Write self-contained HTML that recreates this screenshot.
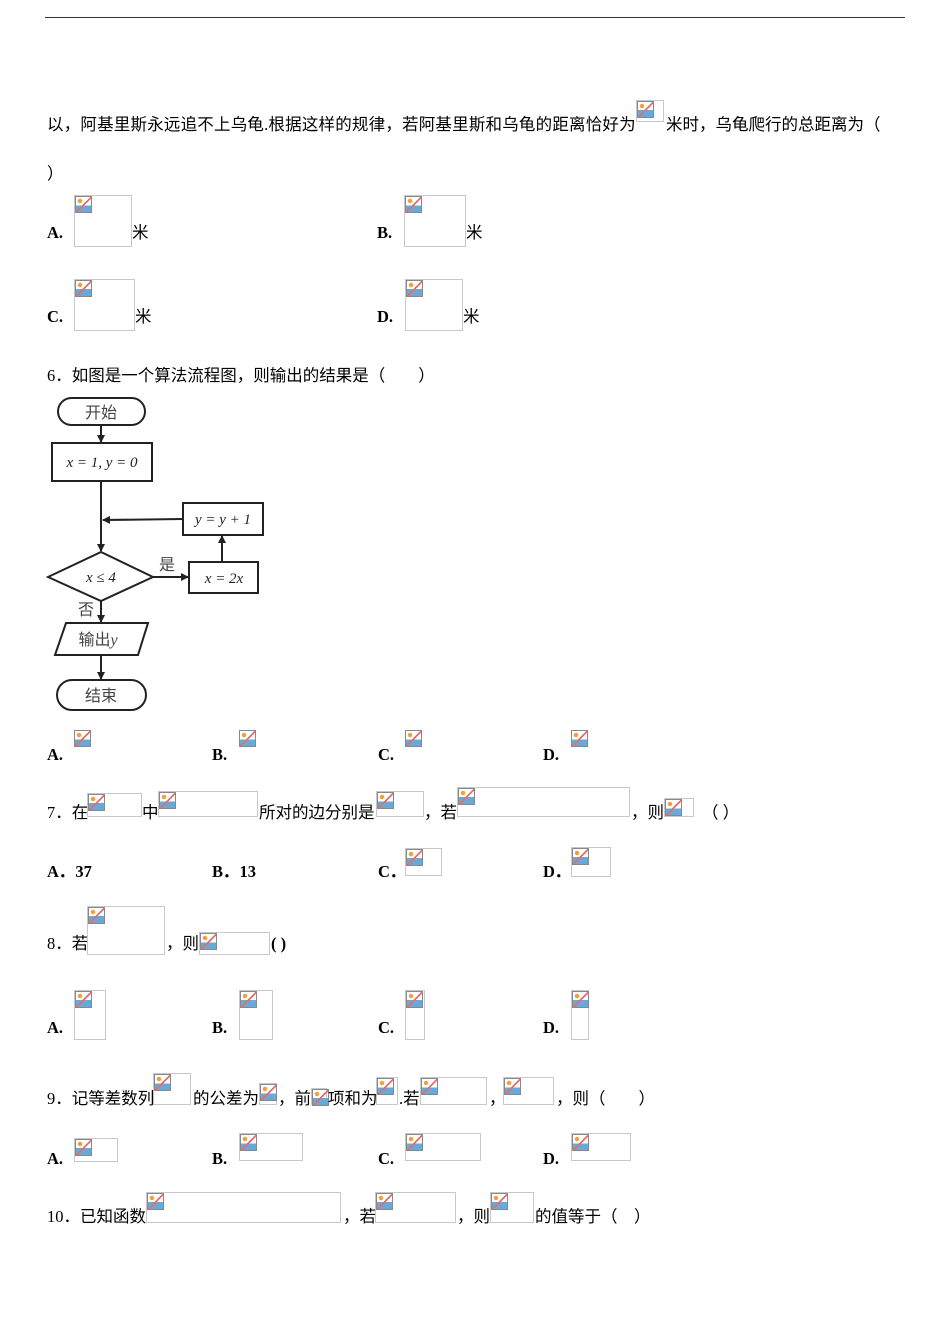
<!DOCTYPE html>
<html><head><meta charset="utf-8"><style>
body{margin:0;width:950px;height:1344px;background:#fff;position:relative;font-family:"Liberation Serif","Noto Sans CJK SC",serif;color:#000;}
.t{position:absolute;font-size:16.5px;line-height:18px;white-space:nowrap;font-family:"Liberation Serif","Noto Sans CJK SC",sans-serif;top:0;margin-top:1px;}
.b{font-weight:bold;font-family:"Liberation Serif",serif;}
.i{position:absolute;border:1px solid #c8c8c8;box-sizing:border-box;}
.i::before{content:"";position:absolute;left:0;top:0;width:17px;height:17px;border:1px solid #888;box-sizing:border-box;
background:radial-gradient(circle at 4px 4px,#f0a040 2px,transparent 2.5px),linear-gradient(135deg,transparent 48%,#e07070 48%,#e07070 56%,transparent 56%),linear-gradient(to bottom,transparent 55%,#6aa8d8 55%);}
.n{border:none;}
</style></head><body>
<div style="position:absolute;left:45px;top:17px;width:860px;height:1px;background:#333"></div>

<div class="t" style="left:47px;top:115px;letter-spacing:0.2px">以，阿基里斯永远追不上乌龟.根据这样的规律，若阿基里斯和乌龟的距离恰好为</div>
<div class="i" style="left:636px;top:100px;width:28px;height:22px"></div>
<div class="t" style="left:666px;top:115px">米时，乌龟爬行的总距离为（</div>
<div class="t" style="left:47px;top:164px">）</div>

<div class="t b" style="left:47px;top:223px">A.</div><div class="i" style="left:74px;top:195px;width:58px;height:52px"></div><div class="t" style="left:132px;top:223px">米</div>
<div class="t b" style="left:377px;top:223px">B.</div><div class="i" style="left:404px;top:195px;width:62px;height:52px"></div><div class="t" style="left:466px;top:223px">米</div>
<div class="t b" style="left:47px;top:307px">C.</div><div class="i" style="left:74px;top:279px;width:61px;height:52px"></div><div class="t" style="left:135px;top:307px">米</div>
<div class="t b" style="left:377px;top:307px">D.</div><div class="i" style="left:405px;top:279px;width:58px;height:52px"></div><div class="t" style="left:463px;top:307px">米</div>

<div class="t" style="left:47px;top:366px">6．如图是一个算法流程图，则输出的结果是（　　）</div>

<svg style="position:absolute;left:0;top:0" width="300" height="720">
<defs><marker id="a" markerWidth="8" markerHeight="8" refX="7" refY="4" orient="auto" markerUnits="userSpaceOnUse"><path d="M0,0L8,4L0,8z" fill="#222"/></marker></defs>
<g stroke="#222" stroke-width="2" fill="none">
<rect x="58" y="398" width="87" height="27" rx="13.5"/>
<rect x="52" y="443" width="100" height="38"/>
<rect x="183" y="503" width="80" height="32"/>
<rect x="189" y="562" width="69" height="31"/>
<polygon points="48,577 101,552 153,577 101,601"/>
<polygon points="66,623 148,623 138,655 55,655"/>
<rect x="57" y="680" width="89" height="30" rx="15"/>
<line x1="101" y1="425" x2="101" y2="442" marker-end="url(#a)"/>
<line x1="101" y1="481" x2="101" y2="551" marker-end="url(#a)"/>
<line x1="183" y1="519" x2="103" y2="520" marker-end="url(#a)"/>
<line x1="222" y1="562" x2="222" y2="536" marker-end="url(#a)"/>
<line x1="153" y1="577" x2="188" y2="577" marker-end="url(#a)"/>
<line x1="101" y1="601" x2="101" y2="622" marker-end="url(#a)"/>
<line x1="101" y1="655" x2="101" y2="679" marker-end="url(#a)"/>
</g>
<g font-size="16" fill="#444" font-family="Noto Sans CJK SC,sans-serif" text-anchor="middle">
<text x="101" y="418">开始</text>
<text x="101" y="701">结束</text>
<text x="167" y="570">是</text>
<text x="86" y="615">否</text>
<text x="98" y="645">输出<tspan font-family="Liberation Serif" font-style="italic">y</tspan></text>
</g>
<g font-size="15" fill="#222" font-family="Liberation Serif,serif" font-style="italic" text-anchor="middle">
<text x="102" y="467">x = 1, y = 0</text>
<text x="223" y="524">y = y + 1</text>
<text x="224" y="583">x = 2x</text>
<text x="101" y="582">x ≤ 4</text>
</g>
</svg>

<div class="t b" style="left:47px;top:745px">A.</div><div class="i n" style="left:74px;top:730px;width:17px;height:20px"></div>
<div class="t b" style="left:212px;top:745px">B.</div><div class="i n" style="left:239px;top:730px;width:17px;height:20px"></div>
<div class="t b" style="left:378px;top:745px">C.</div><div class="i n" style="left:405px;top:730px;width:17px;height:20px"></div>
<div class="t b" style="left:543px;top:745px">D.</div><div class="i n" style="left:571px;top:730px;width:17px;height:20px"></div>

<div class="t" style="left:47px;top:803px">7．在</div><div class="i" style="left:87px;top:793px;width:55px;height:24px"></div>
<div class="t" style="left:142px;top:803px">中</div><div class="i" style="left:158px;top:791px;width:100px;height:26px"></div>
<div class="t" style="left:259px;top:803px">所对的边分别是</div><div class="i" style="left:376px;top:791px;width:48px;height:26px"></div>
<div class="t" style="left:424px;top:803px">，若</div><div class="i" style="left:457px;top:787px;width:173px;height:30px"></div>
<div class="t" style="left:631px;top:803px">，则</div><div class="i" style="left:664px;top:798px;width:30px;height:19px"></div>
<div class="t" style="left:702px;top:803px">（ ）</div>

<div class="t b" style="left:47px;top:862px">A．37</div>
<div class="t b" style="left:212px;top:862px">B．13</div>
<div class="t b" style="left:378px;top:862px">C．</div><div class="i" style="left:405px;top:848px;width:37px;height:28px"></div>
<div class="t b" style="left:543px;top:862px">D．</div><div class="i" style="left:571px;top:847px;width:40px;height:30px"></div>

<div class="t" style="left:47px;top:934px">8．若</div><div class="i" style="left:87px;top:906px;width:78px;height:49px"></div>
<div class="t" style="left:166px;top:934px">，则</div><div class="i" style="left:199px;top:932px;width:71px;height:23px"></div>
<div class="t b" style="left:271px;top:934px">( )</div>

<div class="t b" style="left:47px;top:1018px">A.</div><div class="i" style="left:74px;top:990px;width:32px;height:50px"></div>
<div class="t b" style="left:212px;top:1018px">B.</div><div class="i" style="left:239px;top:990px;width:34px;height:50px"></div>
<div class="t b" style="left:378px;top:1018px">C.</div><div class="i" style="left:405px;top:990px;width:20px;height:50px"></div>
<div class="t b" style="left:543px;top:1018px">D.</div><div class="i" style="left:571px;top:990px;width:18px;height:50px"></div>

<div class="t" style="left:47px;top:1089px">9．记等差数列</div><div class="i" style="left:153px;top:1073px;width:38px;height:32px"></div>
<div class="t" style="left:193px;top:1089px">的公差为</div><div class="i" style="left:259px;top:1083px;width:18px;height:22px"></div>
<div class="t" style="left:278px;top:1089px">，前</div><div class="i" style="left:311px;top:1088px;width:16px;height:17px"></div>
<div class="t" style="left:328px;top:1089px">项和为</div><div class="i" style="left:376px;top:1077px;width:22px;height:28px"></div>
<div class="t" style="left:399px;top:1089px">.若</div><div class="i" style="left:420px;top:1077px;width:67px;height:28px"></div>
<div class="t" style="left:489px;top:1089px">，</div><div class="i" style="left:503px;top:1077px;width:51px;height:28px"></div>
<div class="t" style="left:556px;top:1089px">，则（　　）</div>

<div class="t b" style="left:47px;top:1149px">A.</div><div class="i" style="left:74px;top:1138px;width:44px;height:24px"></div>
<div class="t b" style="left:212px;top:1149px">B.</div><div class="i" style="left:239px;top:1133px;width:64px;height:28px"></div>
<div class="t b" style="left:378px;top:1149px">C.</div><div class="i" style="left:405px;top:1133px;width:76px;height:28px"></div>
<div class="t b" style="left:543px;top:1149px">D.</div><div class="i" style="left:571px;top:1133px;width:60px;height:28px"></div>

<div class="t" style="left:47px;top:1207px">10．已知函数</div><div class="i" style="left:146px;top:1192px;width:195px;height:31px"></div>
<div class="t" style="left:343px;top:1207px">，若</div><div class="i" style="left:375px;top:1192px;width:81px;height:31px"></div>
<div class="t" style="left:457px;top:1207px">，则</div><div class="i" style="left:490px;top:1192px;width:44px;height:31px"></div>
<div class="t" style="left:535px;top:1207px">的值等于（　）</div>
</body></html>
